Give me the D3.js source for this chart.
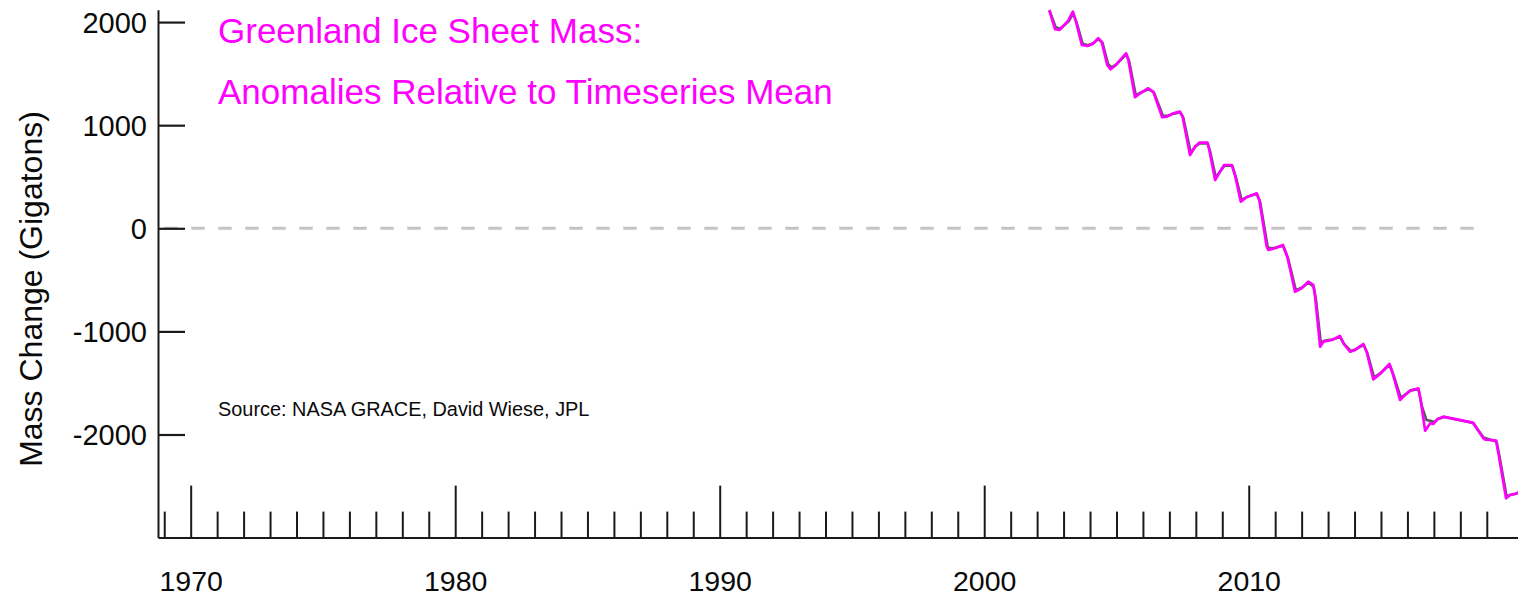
<!DOCTYPE html>
<html>
<head>
<meta charset="utf-8">
<script src="https://cdn.jsdelivr.net/npm/d3@7"></script>
<style>
  html, body { margin: 0; padding: 0; background: #ffffff; }
  svg { display: block; }
  text { font-family: "Liberation Sans", Arial, Helvetica, sans-serif; }
</style>
</head>
<body>
<svg id="chart" width="1518" height="596"></svg>
<script>
// Greenland ice sheet mass anomaly (gigatons) by decimal year.
const magentaYears = [
  2002.46, 2002.68, 2002.84, 2003.18, 2003.35, 2003.47, 2003.69, 2003.90, 2004.10, 2004.31,
  2004.44, 2004.65, 2004.78, 2004.98, 2005.36, 2005.45, 2005.70, 2005.89, 2006.20, 2006.39,
  2006.73, 2006.90, 2007.15, 2007.40, 2007.50, 2007.78, 2007.97, 2008.13, 2008.44, 2008.51,
  2008.73, 2008.91, 2009.07, 2009.36, 2009.48, 2009.70, 2009.92, 2010.30, 2010.40, 2010.68,
  2010.74, 2010.99, 2011.29, 2011.46, 2011.75, 2012.00, 2012.25, 2012.44, 2012.51, 2012.70,
  2012.82, 2013.14, 2013.45, 2013.58, 2013.83, 2014.02, 2014.33, 2014.46, 2014.71, 2014.96,
  2015.32, 2015.44, 2015.72, 2015.91, 2016.10, 2016.41, 2016.50, 2016.67, 2016.86, 2016.98,
  2017.13, 2017.36, 2018.47, 2018.62, 2018.85, 2018.95, 2019.12, 2019.35, 2019.44, 2019.73,
  2019.88, 2020.07, 2020.26
];
const magentaMass = [
  2117, 1930, 1923, 2014, 2101, 2004, 1778, 1768, 1788, 1843,
  1810, 1584, 1542, 1584, 1697, 1632, 1271, 1309, 1358, 1325,
  1077, 1082, 1115, 1131, 1082, 711, 791, 830, 830, 759,
  468, 549, 614, 614, 517, 258, 301, 339, 274, -178,
  -210, -194, -162, -275, -615, -582, -518, -550, -663, -1148,
  -1100, -1083, -1045, -1115, -1197, -1180, -1122, -1197, -1465, -1413,
  -1316, -1406, -1665, -1617, -1575, -1552, -1665, -1963, -1891, -1898,
  -1853, -1827, -1885, -1940, -2030, -2050, -2053, -2060, -2182, -2619,
  -2587, -2577, -2557
];

// Companion solution drawn underneath in dark grey.
const greyYears = [
  2002.47, 2002.70, 2002.88, 2003.20, 2003.36, 2003.50, 2003.72, 2003.92, 2004.12, 2004.32,
  2004.47, 2004.68, 2004.81, 2005.00, 2005.37, 2005.48, 2005.73, 2005.91, 2006.22, 2006.42,
  2006.76, 2006.93, 2007.17, 2007.41, 2007.53, 2007.81, 2007.99, 2008.15, 2008.45, 2008.54,
  2008.76, 2008.93, 2009.09, 2009.37, 2009.51, 2009.73, 2009.94, 2010.31, 2010.43, 2010.71,
  2010.77, 2011.00, 2011.30, 2011.49, 2011.78, 2012.02, 2012.26, 2012.46, 2012.54, 2012.73,
  2012.85, 2013.16, 2013.46, 2013.61, 2013.86, 2014.04, 2014.34, 2014.49, 2014.74, 2014.98,
  2015.33, 2015.47, 2015.75, 2015.93, 2016.12, 2016.42, 2016.54, 2016.72, 2016.90, 2017.02,
  2017.15, 2017.38, 2018.49, 2018.65, 2018.88, 2019.14, 2019.37, 2019.47, 2019.75, 2019.90,
  2020.09, 2020.26
];
const greyMass = [
  2110, 1950, 1935, 2010, 2085, 1990, 1790, 1775, 1795, 1835,
  1800, 1595, 1560, 1590, 1690, 1620, 1290, 1315, 1350, 1315,
  1090, 1090, 1112, 1125, 1070, 730, 795, 825, 822, 745,
  490, 555, 610, 608, 500, 275, 305, 332, 255, -170,
  -195, -188, -170, -295, -600, -575, -525, -570, -690, -1120,
  -1090, -1080, -1055, -1125, -1190, -1175, -1130, -1215, -1445, -1405,
  -1325, -1420, -1645, -1610, -1572, -1560, -1720, -1860, -1870, -1880,
  -1850, -1830, -1888, -1950, -2030, -2050, -2068, -2200, -2600, -2585,
  -2575, -2560
];

// Axis ticks and labels
const yTickValues = [2000, 1000, 0, -1000, -2000];
const decadeTicks = [1970, 1980, 1990, 2000, 2010];
const yearTicks = d3.range(1969, 2020).filter(y => y % 10 !== 0);
const titleLines = ["Greenland Ice Sheet Mass:", "Anomalies Relative to Timeseries Mean"];
const yAxisTitle = "Mass Change (Gigatons)";
const sourceNote = "Source: NASA GRACE, David Wiese, JPL";
const zeroLineSpan = [1969, 2019];

const svg = d3.select("#chart");
const axisColor = "#1a1a1a";
const plainNumber = d => String(d);   // keeps an ASCII hyphen for negatives

const x = d3.scaleLinear().domain([1968.764, 2020.18]).range([158, 1518]);
const y = d3.scaleLinear().domain([-3000, 2120]).range([537.6, 9.7]);

// dashed zero reference line
svg.append("line")
  .attr("x1", x(zeroLineSpan[0])).attr("x2", x(zeroLineSpan[1]))
  .attr("y1", y(0)).attr("y2", y(0))
  .attr("stroke", "#c4c4c4").attr("stroke-width", 3)
  .attr("stroke-dasharray", "13.5,13.5");

// y axis: ticks point into the plot, labels on the left
const yAxis = svg.append("g")
  .attr("transform", `translate(${x.range()[0]},0)`)
  .call(d3.axisLeft(y).tickValues(yTickValues).tickFormat(plainNumber)
    .tickSizeInner(-27).tickSizeOuter(0).tickPadding(11));
yAxis.select(".domain").attr("stroke", axisColor).attr("stroke-width", 2);
yAxis.selectAll(".tick line").attr("stroke", axisColor).attr("stroke-width", 2.2);
yAxis.selectAll(".tick text")
  .attr("fill", "#0a0a0a").style("font-size", "29px")
  .attr("dy", "0.36em");

// x axis: yearly minor ticks and decade major ticks, both pointing up
const xMinor = svg.append("g")
  .attr("transform", `translate(0,${y.range()[0]})`)
  .call(d3.axisBottom(x).tickValues(yearTicks).tickFormat("")
    .tickSizeInner(-26).tickSizeOuter(0));
xMinor.select(".domain").remove();
xMinor.selectAll(".tick line").attr("stroke", axisColor).attr("stroke-width", 2);

const xMajor = svg.append("g")
  .attr("transform", `translate(0,${y.range()[0]})`)
  .call(d3.axisBottom(x).tickValues(decadeTicks).tickFormat(plainNumber)
    .tickSizeInner(-52).tickSizeOuter(0).tickPadding(33));
xMajor.select(".domain").attr("stroke", axisColor).attr("stroke-width", 2);
xMajor.selectAll(".tick line").attr("stroke", axisColor).attr("stroke-width", 2);
xMajor.selectAll(".tick text").attr("fill", "#0a0a0a").style("font-size", "28.5px");

// data lines
const line = d3.line().x(d => x(d[0])).y(d => y(d[1]));
const greySeries = d3.zip(greyYears, greyMass);
const magentaSeries = d3.zip(magentaYears, magentaMass);

svg.append("path").datum(greySeries)
  .attr("d", line).attr("fill", "none")
  .attr("stroke", "#5a5a5a").attr("stroke-width", 2.6)
  .attr("stroke-linejoin", "round");
svg.append("path").datum(magentaSeries)
  .attr("d", line).attr("fill", "none")
  .attr("stroke", "#ff00ff").attr("stroke-width", 2.7)
  .attr("stroke-linejoin", "round");

// titles and notes
svg.selectAll("text.title").data(titleLines).enter().append("text")
  .attr("class", "title")
  .attr("x", 218).attr("y", (d, i) => 43 + i * 61)
  .attr("fill", "#ff00ff").style("font-size", "35px")
  .text(d => d);

svg.append("text")
  .attr("x", 218).attr("y", 416)
  .attr("fill", "#0a0a0a").style("font-size", "19.9px")
  .text(sourceNote);

svg.append("text")
  .attr("transform", `translate(42,${289}) rotate(-90)`)
  .attr("text-anchor", "middle")
  .attr("fill", "#0a0a0a").style("font-size", "32px")
  .text(yAxisTitle);
</script>
</body>
</html>
